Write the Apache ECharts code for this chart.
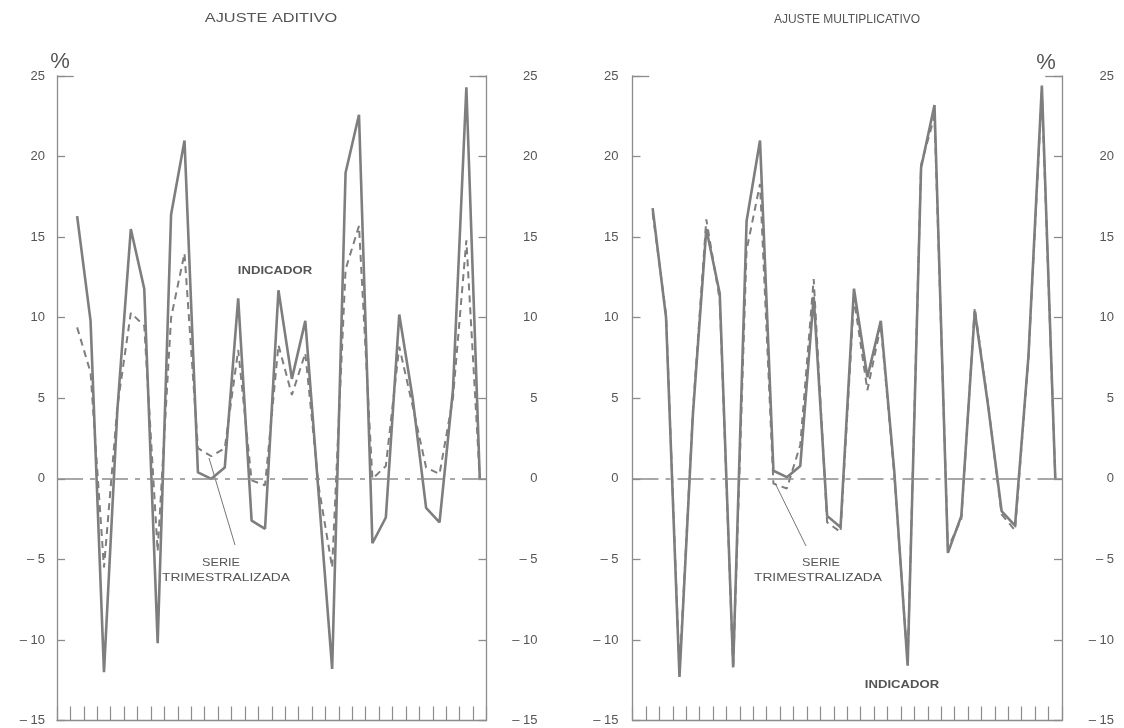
<!DOCTYPE html>
<html>
<head>
<meta charset="utf-8">
<script src="https://cdn.jsdelivr.net/npm/echarts@6/dist/echarts.min.js"></script>
<style>
html,body{margin:0;padding:0;background:#ffffff;}
#chart{width:1124px;height:728px;}
</style>
</head>
<body>
<div id="chart"></div>
<script>
// ---- DATA (quarterly growth rates, %) ----
const periodCount = 32;            // slots on the time axis (ticks between them)
const yMin = -15, yMax = 25, yStep = 5;
const panelTitles = ['AJUSTE ADITIVO', 'AJUSTE MULTIPLICATIVO'];

const aditivoIndicador = [16.3, 9.8, -12.0, 4.3, 15.5, 11.8, -10.2, 16.4, 21.0, 0.4, 0.0, 0.7, 11.2, -2.6, -3.1, 11.7, 6.2, 9.8, -1.0, -11.8, 19.0, 22.6, -4.0, -2.4, 10.2, 5.0, -1.8, -2.7, 5.5, 24.3, 0.0];
const aditivoSerie     = [9.4, 6.6, -5.5, 4.5, 10.3, 9.5, -4.5, 10.0, 14.0, 1.9, 1.4, 1.9, 8.0, -0.1, -0.4, 8.3, 5.2, 7.8, -0.5, -5.5, 13.0, 15.7, 0.0, 0.8, 8.2, 4.5, 0.7, 0.3, 5.0, 14.8, 0.0];
const multIndicador    = [16.8, 10.0, -12.3, 4.0, 15.5, 11.5, -11.7, 16.0, 21.0, 0.5, 0.1, 0.8, 11.3, -2.3, -3.0, 11.8, 6.3, 9.8, 0.5, -11.6, 19.3, 23.2, -4.6, -2.3, 10.4, 4.5, -2.0, -2.9, 7.6, 24.4, 0.0];
const multSerie        = [16.5, 10.2, -12.0, 4.2, 16.1, 11.1, -11.8, 14.2, 18.3, -0.3, -0.6, 2.1, 12.4, -2.7, -3.3, 11.2, 5.5, 9.5, 0.3, -11.4, 19.5, 22.5, -4.3, -2.5, 10.6, 4.6, -2.2, -3.2, 7.5, 24.0, 0.0];

// ---- STYLE ----
const lineColor = '#7e7e7e';
const axisColor = '#8c8c8c';
const textColor = '#555555';
const font = 'Liberation Sans, Arial, sans-serif';

function toPoints(arr) {
  // each observation sits in the middle of its slot; slot 0 is empty
  return arr.map((v, i) => [i + 1.5, v]);
}
function fmt(v) {
  return v < 0 ? '\u2013 ' + Math.abs(v) : String(v);
}

const grids = [
  {left: 57, right: 1124 - 486.5, top: 76, bottom: 7.5},
  {left: 632.5, right: 1124 - 1062, top: 76, bottom: 7.5}
];

function xAxis(g) {
  return {
    type: 'value', gridIndex: g, min: 0, max: periodCount, interval: 1,
    axisLine: {show: true, onZero: false, lineStyle: {color: axisColor, width: 1.3}},
    axisTick: {show: true, inside: true, length: 14, lineStyle: {color: axisColor, width: 1.2}},
    axisLabel: {show: false}, splitLine: {show: false}
  };
}
function yAxis(g, pos, margin, align) {
  return {
    type: 'value', gridIndex: g, position: pos, min: yMin, max: yMax, interval: yStep,
    axisLine: {show: true, onZero: false, lineStyle: {color: axisColor, width: 1.3}},
    axisTick: {show: true, inside: true, length: 8, lineStyle: {color: axisColor, width: 1.3}},
    splitLine: {show: false},
    axisLabel: {show: true, margin: margin, align: align, formatter: fmt, color: textColor, fontSize: 13, fontFamily: font}
  };
}

function indicatorSeries(g, data) {
  return {
    type: 'line', xAxisIndex: g, yAxisIndex: g * 2, data: toPoints(data),
    showSymbol: false, silent: true, animation: false,
    lineStyle: {color: lineColor, width: 2.6}, z: 3
  };
}
function serieSeries(g, data) {
  return {
    type: 'line', xAxisIndex: g, yAxisIndex: g * 2, data: toPoints(data),
    showSymbol: false, silent: true, animation: false,
    lineStyle: {color: lineColor, width: 2, type: [7, 5]}, z: 4
  };
}
function helperSeries(g) {
  // zero reference line (dash-dot) and the long top ticks at 25
  return {
    type: 'line', xAxisIndex: g, yAxisIndex: g * 2, data: [], silent: true, animation: false,
    markLine: {
      symbol: 'none', silent: true, animation: false, label: {show: false},
      data: [
        {yAxis: 0, lineStyle: {color: axisColor, width: 1.7, type: [26, 7, 5, 7]}},
        [{coord: [0, yMax], lineStyle: {color: axisColor, width: 1.3, type: 'solid'}}, {coord: [1.25, yMax]}],
        [{coord: [periodCount - 1.25, yMax], lineStyle: {color: axisColor, width: 1.3, type: 'solid'}}, {coord: [periodCount, yMax]}]
      ]
    }
  };
}

function label(x, y, s, size, stretch, bold) {
  return {
    type: 'text', silent: true, x: x, y: y, scaleX: stretch, scaleY: 1,
    style: {text: s, fill: textColor, font: (bold ? 'bold ' : '') + size + 'px ' + font,
            align: 'center', verticalAlign: 'middle'}
  };
}

const chart = echarts.init(document.getElementById('chart'), null, {renderer: 'canvas'});
chart.setOption({
  animation: false,
  backgroundColor: '#ffffff',
  grid: grids,
  xAxis: [xAxis(0), xAxis(1)],
  yAxis: [
    yAxis(0, 'left', 12, 'right'), yAxis(0, 'right', 51, 'right'),
    yAxis(1, 'left', 14, 'right'), yAxis(1, 'right', 52, 'right')
  ],
  series: [
    helperSeries(0), indicatorSeries(0, aditivoIndicador), serieSeries(0, aditivoSerie),
    helperSeries(1), indicatorSeries(1, multIndicador), serieSeries(1, multSerie)
  ],
  graphic: [
    label(271, 19, panelTitles[0], 12, 1.36, false),
    label(847, 20, panelTitles[1], 12, 1.0, false),
    label(60, 62, '%', 22, 1.0, false),
    label(1046, 63, '%', 22, 1.0, false),
    label(275, 271, 'INDICADOR', 11.5, 1.14, true),
    label(221, 563, 'SERIE', 11.5, 1.1, false),
    label(226, 578, 'TRIMESTRALIZADA', 11.5, 1.2, false),
    {type: 'line', silent: true, shape: {x1: 209, y1: 458, x2: 235, y2: 545}, style: {stroke: '#777', lineWidth: 1}},
    label(821, 563, 'SERIE', 11.5, 1.1, false),
    label(818, 578, 'TRIMESTRALIZADA', 11.5, 1.2, false),
    {type: 'line', silent: true, shape: {x1: 775, y1: 483, x2: 806, y2: 546}, style: {stroke: '#777', lineWidth: 1}},
    label(902, 685, 'INDICADOR', 11.5, 1.14, true)
  ]
});
</script>
</body>
</html>
